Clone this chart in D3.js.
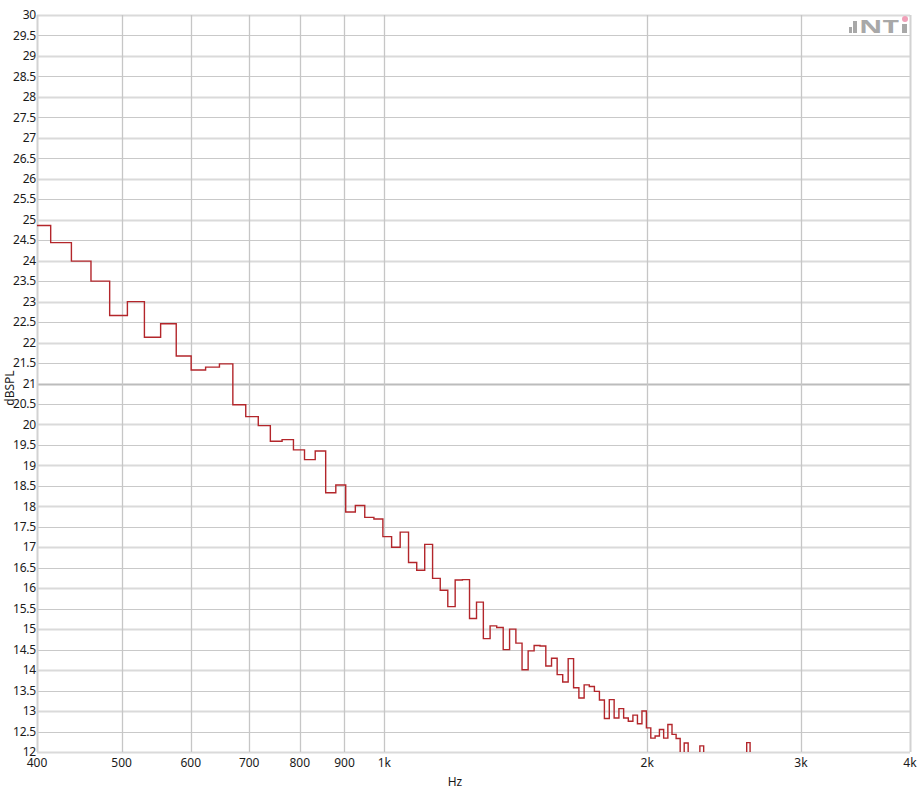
<!DOCTYPE html>
<html><head><meta charset="utf-8">
<script src="https://cdn.jsdelivr.net/npm/d3@7"></script>
<style>
html,body{margin:0;padding:0;background:#fff;}
text{font-family:"Segoe UI","Noto Sans","Open Sans",sans-serif;}
</style></head>
<body><svg id="chart" width="924" height="792"></svg>
<script>
// Bin start frequencies (Hz), read from the step positions
const binStartHz = [391.5,414.7,438.0,461.2,484.5,507.7,531.0,554.2,577.5,600.7,624.0,647.2,670.5,693.7,717.0,740.2,763.5,786.7,810.0,833.2,856.5,879.7,903.0,926.2,949.5,972.7,996.0,1019.2,1042.5,1065.7,1089.0,1112.2,1135.5,1158.7,1182.0,1205.2,1228.5,1251.7,1275.0,1298.2,1321.5,1344.7,1368.0,1391.2,1414.5,1437.7,1461.0,1484.2,1507.5,1530.7,1554.0,1577.2,1600.5,1623.7,1647.0,1670.2,1693.5,1716.7,1740.0,1763.2,1786.5,1809.7,1833.0,1856.2,1879.5,1902.7,1926.0,1949.2,1972.5,1995.7,2019.0,2042.2,2065.5,2088.7,2112.0,2135.2,2158.5,2181.7,2205.0,2228.2,2251.5,2274.7,2298.0,2321.2,2344.5,2367.7,2391.0,2414.2,2437.5,2460.7,2484.0,2507.2,2530.5,2553.7,2577.0,2600.2,2623.5];
const lastBinEndHz = 2646.7;
// Level per bin (dBSPL)
const levels = [24.86,24.44,23.99,23.5,22.66,23.0,22.13,22.46,21.67,21.33,21.4,21.48,20.48,20.19,19.97,19.59,19.63,19.38,19.14,19.35,18.33,18.52,17.86,18.02,17.73,17.69,17.26,17.0,17.37,16.63,16.44,17.07,16.24,15.95,15.55,16.2,16.21,15.26,15.66,14.77,15.08,15.04,14.5,15.0,14.66,14.01,14.47,14.6,14.59,14.1,14.29,13.89,13.71,14.28,13.57,13.32,13.64,13.6,13.48,13.27,12.82,13.28,12.83,13.06,12.83,12.75,12.9,12.69,13.0,12.59,12.34,12.39,12.55,12.34,12.67,12.43,12.33,11.9,12.22,11.9,11.8,11.9,12.15,11.85,11.7,11.9,11.8,11.75,11.9,11.8,11.85,11.7,11.8,11.9,11.85,12.23,11.8];

const xTickValues = [400,500,600,700,800,900,1000,2000,3000,4000];
const xTickLabels = ["400","500","600","700","800","900","1k","2k","3k","4k"];
const yTickValues = [12,12.5,13,13.5,14,14.5,15,15.5,16,16.5,17,17.5,18,18.5,19,19.5,20,20.5,21,21.5,22,22.5,23,23.5,24,24.5,25,25.5,26,26.5,27,27.5,28,28.5,29,29.5,30];
const xLabel = "Hz", yLabel = "dBSPL";

const L = 37, R = 910, T = 15, B = 752;
const svg = d3.select("#chart");
const x = d3.scaleLog().domain([400,4000]).range([L,R]);
const y = d3.scaleLinear().domain([12,30]).range([B,T]);

// horizontal grid
svg.append("g").selectAll("line").data(yTickValues).join("line")
  .attr("x1",L).attr("x2",R)
  .attr("y1",d=>Math.round(y(d))+0.5).attr("y2",d=>Math.round(y(d))+0.5)
  .attr("stroke",d=> d===21 ? "#bcbcbc" : (Number.isInteger(d) ? "#dadada" : "#c9c9c9"))
  .attr("stroke-width",d=> (Number.isInteger(d)) ? 2 : 1);
// vertical grid
svg.append("g").selectAll("line").data(xTickValues).join("line")
  .attr("x1",d=>Math.round(x(d))+0.5).attr("x2",d=>Math.round(x(d))+0.5)
  .attr("y1",T).attr("y2",B)
  .attr("stroke",(d,i)=> (i===0||i===xTickValues.length-1) ? "#d2d2d2" : "#c6c6c6")
  .attr("stroke-width",(d,i)=> (i===0||i===xTickValues.length-1) ? 2 : 1.3);

// y labels
svg.append("g").selectAll("text").data(yTickValues).join("text")
  .attr("x",L-1).attr("y",d=>y(d)).attr("dy","0.35em")
  .attr("text-anchor","end").attr("font-size",12).attr("letter-spacing","-0.2")
  .attr("fill","#1a1a1a")
  .text(d=>String(d));
// x labels
svg.append("g").selectAll("text").data(xTickValues).join("text")
  .attr("x",d=>x(d)).attr("y",767)
  .attr("text-anchor","middle").attr("font-size",12).attr("fill","#1a1a1a")
  .text((d,i)=>xTickLabels[i]);
svg.append("text").attr("x",455).attr("y",786).attr("text-anchor","middle")
  .attr("font-size",12).attr("fill","#1a1a1a").text(xLabel);
svg.append("text").attr("transform",`translate(14,388) rotate(-90)`)
  .attr("text-anchor","middle").attr("font-size",12).attr("fill","#1a1a1a").text(yLabel);

// step line
svg.append("clipPath").attr("id","clip").append("rect")
  .attr("x",L).attr("y",T).attr("width",R-L).attr("height",B-T);
const pts = binStartHz.map((f,i)=>[f,levels[i]]);
pts.push([lastBinEndHz, levels[levels.length-1]]);
const line = d3.line().x(d=>x(d[0])).y(d=>y(d[1])).curve(d3.curveStepAfter);
svg.append("path").attr("clip-path","url(#clip)").attr("d",line(pts))
  .attr("fill","none").attr("stroke","#b3262b").attr("stroke-width",1.4);

// logo
const logo = svg.append("g").attr("fill","#a8a8a8");
logo.append("rect").attr("x",849).attr("y",27).attr("width",3).attr("height",6);
logo.append("rect").attr("x",853).attr("y",21).attr("width",4).attr("height",12);
logo.append("text").attr("x",859).attr("y",33).attr("font-size",17).attr("font-weight","bold")
  .attr("font-family","Arial, 'Liberation Sans', sans-serif")
  .attr("textLength",40).attr("lengthAdjust","spacingAndGlyphs").text("NT");
logo.append("rect").attr("x",902).attr("y",24).attr("width",5).attr("height",9);
svg.append("circle").attr("cx",905).attr("cy",19).attr("r",3).attr("fill","#f0a0b8");
</script></body></html>
